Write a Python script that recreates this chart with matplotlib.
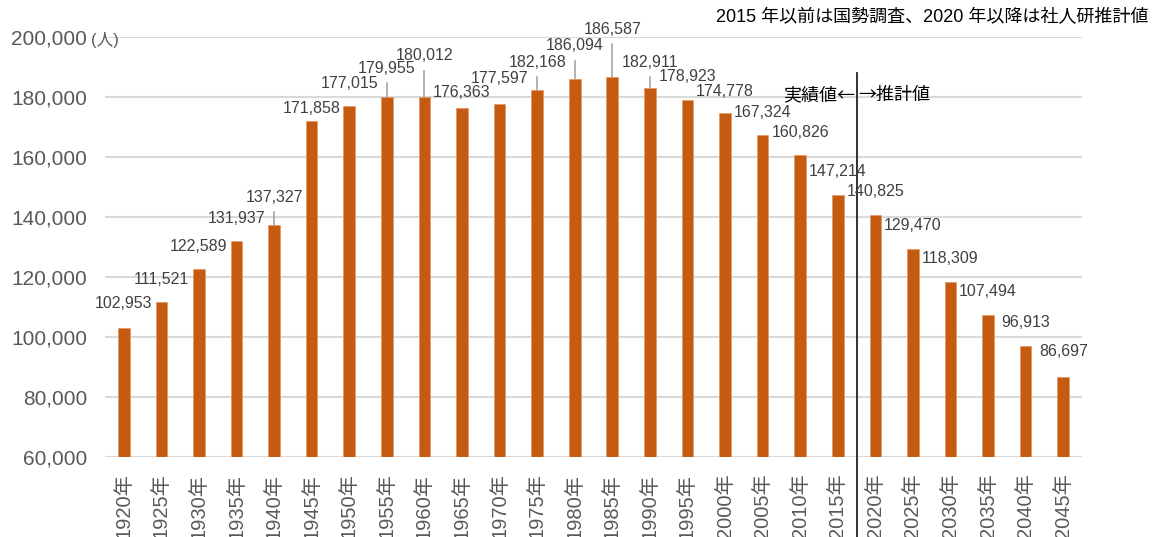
import matplotlib.pyplot as plt
from matplotlib.transforms import blended_transform_factory

years = [1920, 1925, 1930, 1935, 1940, 1945, 1950, 1955, 1960, 1965, 1970, 1975, 1980,
         1985, 1990, 1995, 2000, 2005, 2010, 2015, 2020, 2025, 2030, 2035, 2040, 2045]
population = [102953, 111521, 122589, 131937, 137327, 171858, 177015, 179955, 180012,
              176363, 177597, 182168, 186094, 186587, 182911, 178923, 174778, 167324,
              160826, 147214, 140825, 129470, 118309, 107494, 96913, 86697]
tick_labels = [f'{y}年' for y in years]
yticks = [60000, 80000, 100000, 120000, 140000, 160000, 180000, 200000]

# label placement (pixels above bar top) and which labels get a leader line
label_off = [25, 23, 23, 23, 28, 13, 22, 29, 41, 15, 26, 28, 33, 48, 26, 24, 21, 23,
             22.5, 24, 23.5, 23.5, 24, 23.5, 24, 25]
leader = [1940, 1955, 1960, 1975, 1980, 1985, 1990]

FONT = ['Liberation Sans', 'Noto Sans CJK JP']
CJK = ['Noto Sans CJK JP', 'DejaVu Sans']
plt.rcParams['font.family'] = FONT

fig = plt.figure(figsize=(11.52, 5.37), dpi=100)
ax = fig.add_axes([105 / 1152, 1 - 457 / 537, (1082 - 105) / 1152, 420 / 537])

x = list(range(len(years)))
ax.bar(x, population, width=0.31, color='#C55A11', edgecolor='#E39A6A', linewidth=0.6, zorder=3)

ax.set_xlim(-0.5, len(years) - 0.5)
ax.set_ylim(60000, 200000)
ax.set_yticks(yticks)
ax.set_yticklabels([f'{v:,}' for v in yticks], fontsize=15, color='#595959')
ax.set_xticks(x)
ax.set_xticklabels(tick_labels, rotation=90, fontsize=14.5, color='#595959', va='top')
ax.tick_params(axis='both', length=0)
ax.tick_params(axis='y', pad=13)
ax.tick_params(axis='x', pad=12)
ax.grid(axis='y', color='#D9D9D9', linewidth=1.5, zorder=0)
for s in ax.spines.values():
    s.set_visible(False)

px = 420 / 140000  # pixels per person
for i, (yr, v) in enumerate(zip(years, population)):
    off = label_off[i]
    ax.annotate(f'{v:,}', (i, v), xytext=(0, off), textcoords='offset pixels',
                ha='center', va='center', fontsize=11.5, color='#404040', zorder=5)
    if yr in leader:
        top = v + (off - 15) / px
        ax.plot([i, i], [v, top], color='#A6A6A6', linewidth=1.2, zorder=2)

# divider between census results and projections
trans = blended_transform_factory(ax.transData, ax.transAxes)
ax.plot([19.5, 19.5], [0.914, -0.2], color='#222222', linewidth=1.3,
        transform=trans, clip_on=False, zorder=4)
ax.text(19.45, 0.862, '実績値←', transform=trans, ha='right', va='center',
        fontsize=13, color='black', family=CJK)
ax.text(19.55, 0.862, '→推計値', transform=trans, ha='left', va='center',
        fontsize=13, color='black', family=CJK)

fig.text(119 / 1152, 1 - 40 / 537, '(人)', ha='right', va='center', fontsize=12, color='#595959')
fig.text(1148 / 1152, 1 - 18 / 537, '2015 年以前は国勢調査、2020 年以降は社人研推計値',
         ha='right', va='center', fontsize=13, color='black')

fig.savefig('out.png', dpi=100)
